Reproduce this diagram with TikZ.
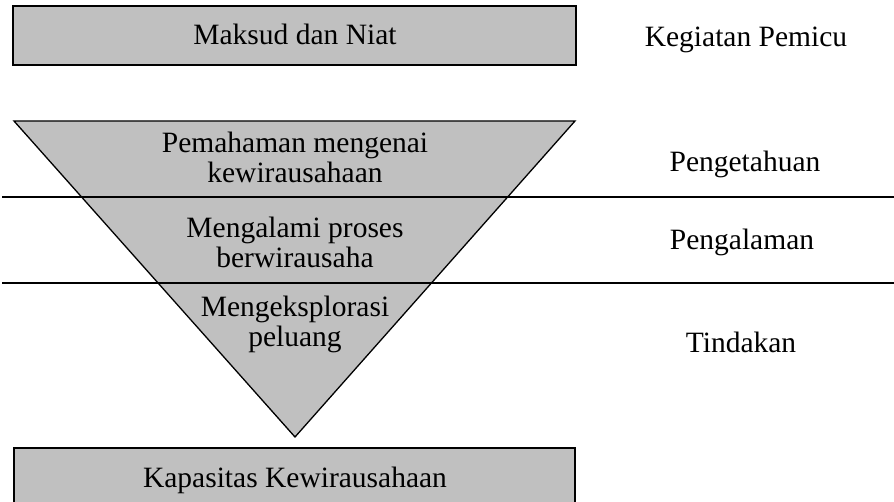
\documentclass[tikz,border=0pt]{standalone}
\usepackage{fontspec}
\setmainfont{Liberation Serif}
\definecolor{boxgray}{HTML}{C0C0C0}
\begin{document}
\begin{tikzpicture}[x=1pt,y=-1pt,
  panel/.style={draw=black, line width=1.6pt, fill=boxgray},
  funnel/.style={draw=black, line width=1.3pt, fill=boxgray},
  divider/.style={draw=black, line width=1.6pt},
  lbl/.style={inner sep=0pt, anchor=base, align=center,
              font=\fontsize{29.5}{30.5}\selectfont}]
\useasboundingbox (0,0) rectangle (894,502);
\clip (0,0) rectangle (894,502);

% top and bottom boxes
\draw[panel] (13,6) rectangle (576,65);
\draw[panel] (14,448) rectangle (575,520);

% inverted triangle
\coordinate (tl) at (14,121);
\coordinate (tr) at (575,121);
\coordinate (apex) at (295,437);
\draw[funnel] (tl) -- (tr) -- (apex) -- cycle;

% horizontal separators
\coordinate (d1a) at (2,197);   \coordinate (d1b) at (894,197);
\coordinate (d2a) at (2,283);   \coordinate (d2b) at (894,283);
\draw[divider] (d1a) -- (d1b);
\draw[divider] (d2a) -- (d2b);

% texts inside the shapes (two-line nodes sit on their last baseline)
\node[lbl] (niat) at (295,45) {Maksud dan Niat};
\node[lbl] (paham) at (295,183) {Pemahaman mengenai\\kewirausahaan};
\node[lbl] (alami) at (295,268) {Mengalami proses\\berwirausaha};
\node[lbl] (eksplor) at (295,347) {Mengeksplorasi\\peluang};
\node[lbl] (kapasitas) at (295,487) {Kapasitas Kewirausahaan};

% labels on the right
\node[lbl] (pemicu) at (746,47) {Kegiatan Pemicu};
\node[lbl] (tahu) at (745,172) {Pengetahuan};
\node[lbl] (alaman) at (742,250) {Pengalaman};
\node[lbl] (tindak) at (741,353) {Tindakan};
\end{tikzpicture}
\end{document}
